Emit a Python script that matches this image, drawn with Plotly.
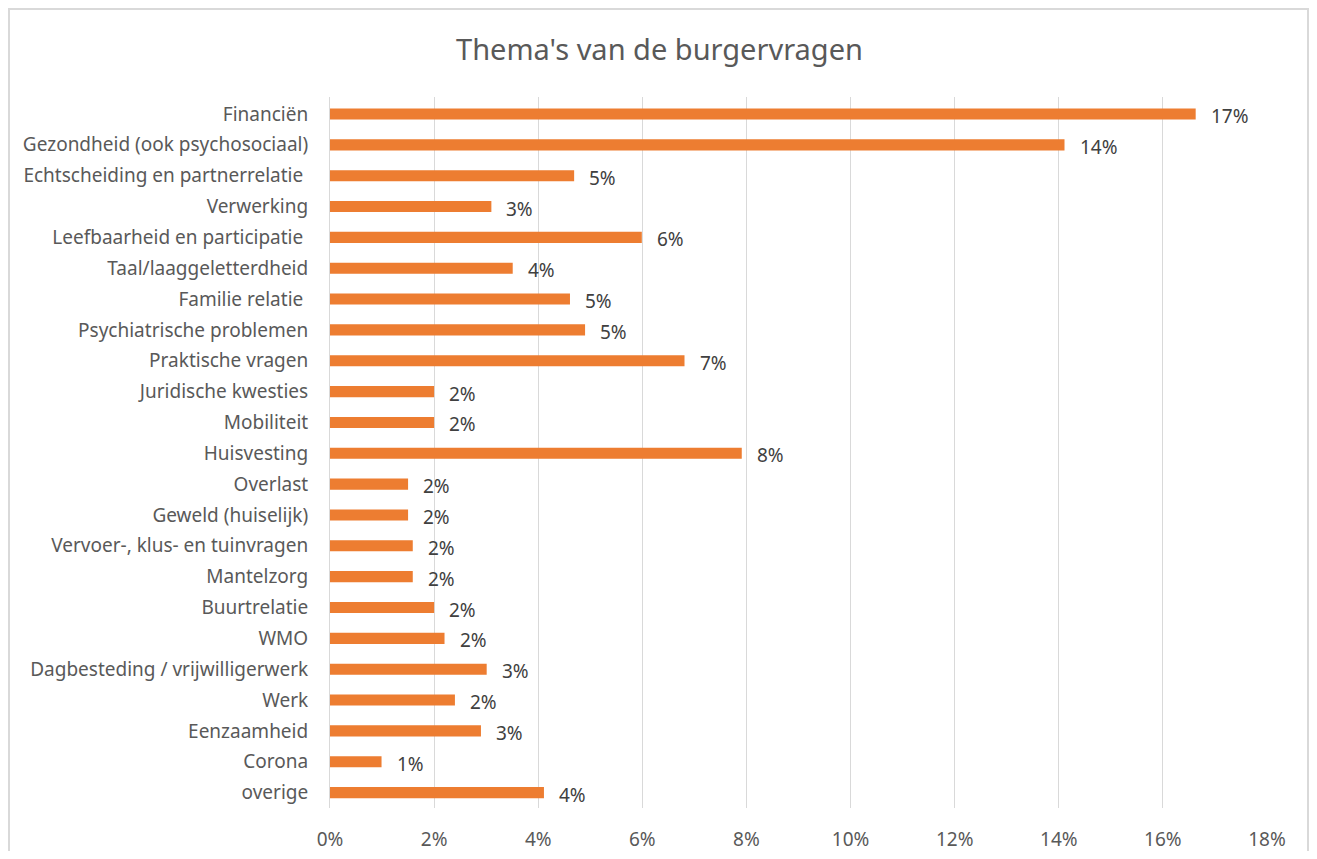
import plotly.graph_objects as go

categories = [
    "Financiën", "Gezondheid (ook psychosociaal)", "Echtscheiding en partnerrelatie ",
    "Verwerking", "Leefbaarheid en participatie ", "Taal/laaggeletterdheid",
    "Familie relatie ", "Psychiatrische problemen", "Praktische vragen",
    "Juridische kwesties", "Mobiliteit", "Huisvesting", "Overlast",
    "Geweld (huiselijk)", "Vervoer-, klus- en tuinvragen", "Mantelzorg",
    "Buurtrelatie", "WMO", "Dagbesteding / vrijwilligerwerk", "Werk",
    "Eenzaamheid", "Corona", "overige",
]
values = [
    0.1663, 0.1411, 0.0469, 0.0310, 0.0599, 0.0351, 0.0461, 0.0490, 0.0681,
    0.0200, 0.0200, 0.0791, 0.0150, 0.0150, 0.0159, 0.0159, 0.0200, 0.0220,
    0.0301, 0.0240, 0.0290, 0.0099, 0.0411,
]
x_ticks = [0, 0.02, 0.04, 0.06, 0.08, 0.10, 0.12, 0.14, 0.16, 0.18]
x_ticktext = ["0%", "2%", "4%", "6%", "8%", "10%", "12%", "14%", "16%", "18%"]

FONT = "Noto Sans, Open Sans, sans-serif"
W, H = 1301, 843
L, R, T, B = 322, 42, 89, 43
PW, PH = W - L - R, H - T - B

fig = go.Figure()
fig.add_trace(go.Bar(
    x=values, y=categories, orientation="h",
    marker=dict(color="#ED7D31", line=dict(width=0)),
    hoverinfo="x+y",
))

for v, c in zip(values, categories):
    fig.add_annotation(
        x=v, y=c, text=f"{round(v*100):.0f}%", showarrow=False,
        xanchor="left", yanchor="middle", xshift=13, yshift=-2,
        font=dict(family=FONT, size=19, color="#404040"),
    )

fig.update_layout(
    width=W, height=H,
    paper_bgcolor="white", plot_bgcolor="white",
    margin=dict(l=L, r=R, t=T, b=B, autoexpand=False),
    bargap=0.64,
    showlegend=False,
    title=dict(
        text="Thema's van de burgervragen", x=651.5 / W, xanchor="center",
        y=1 - 42 / H, yanchor="middle",
        font=dict(family=FONT, size=29, color="#595959"),
    ),
    xaxis=dict(
        range=[0, 0.18], tickvals=x_ticks, ticktext=x_ticktext,
        showgrid=True, gridcolor="#D9D9D9", gridwidth=1,
        zeroline=False, showline=False, ticks="",
        ticklabelstandoff=18, automargin=False,
        tickfont=dict(family=FONT, size=19, color="#595959"),
    ),
    yaxis=dict(
        categoryorder="array", categoryarray=categories, autorange="reversed",
        showgrid=False, zeroline=False, showline=True, linecolor="#D9D9D9", linewidth=1,
        ticks="", ticklabelstandoff=17, automargin=False,
        tickfont=dict(family=FONT, size=19, color="#595959"),
    ),
    shapes=[dict(
        type="rect", xref="paper", yref="paper",
        x0=(1 - L) / PW, x1=1 + (R - 1) / PW, y0=-(B + 10) / PH, y1=1 + (T - 1) / PH,
        line=dict(color="#D9D9D9", width=2), fillcolor="rgba(0,0,0,0)",
    )],
)

fig.write_html("out.html")
